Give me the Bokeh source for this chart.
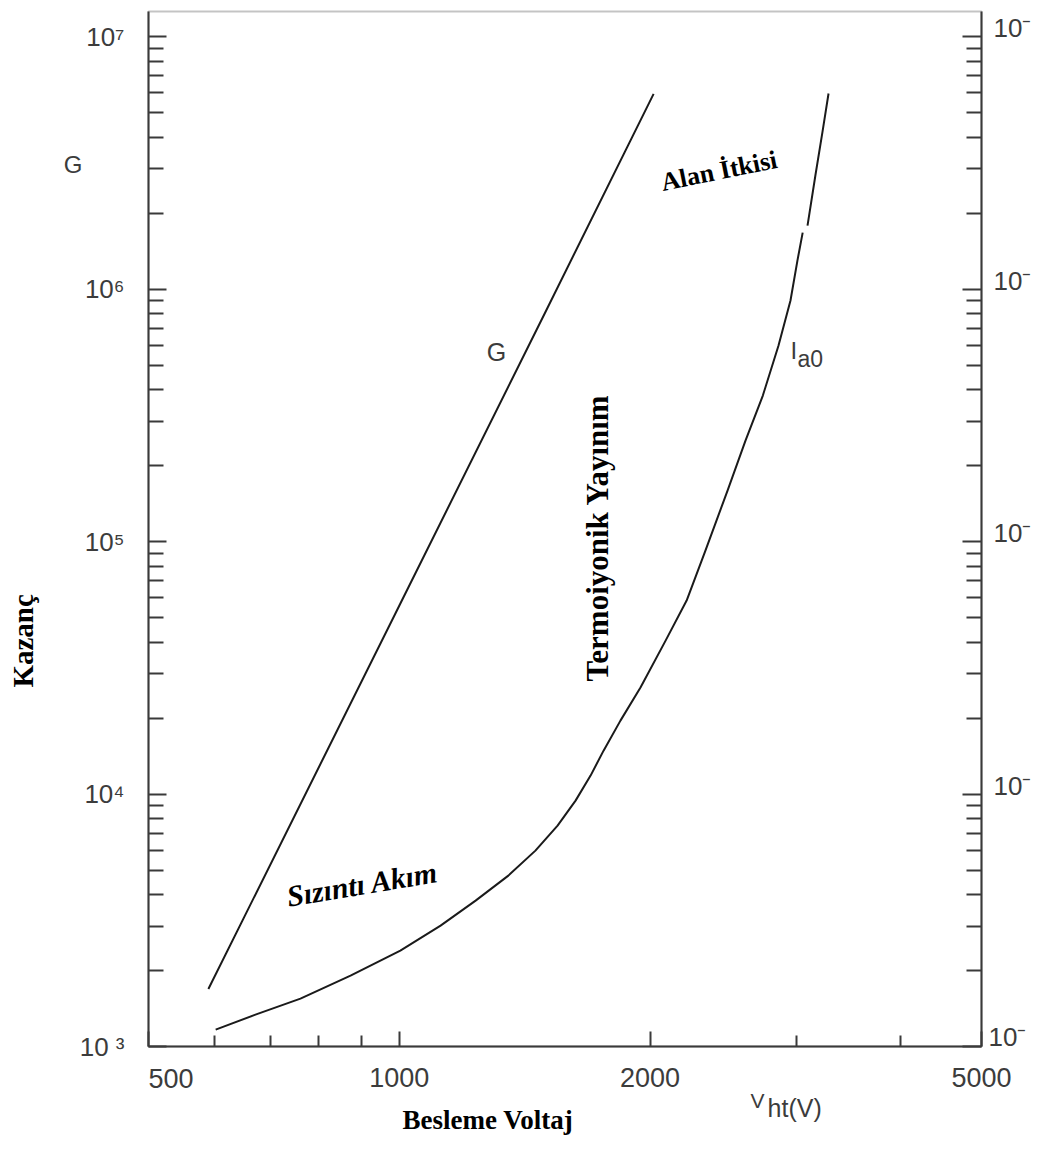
import math
from bokeh.plotting import figure
from bokeh.models import FixedTicker, LogAxis, Label, Range1d, BoxAnnotation
from bokeh.embed import file_html
from bokeh.resources import INLINE

nan = float("nan")

# ---- data ----
g_voltage = [590, 1000, 1500, 2020]
g_gain = [1690, 55700, 8.2e5, 5.94e6]

ia0_voltage = [602, 672, 761, 874, 1003, 1121, 1235, 1352, 1457, 1549, 1628, 1697, 1759,
               1843, 1948, 2088, 2213, 2331, 2478, 2604, 2732, 2853, 2949, 3006, 3050,
               nan, 3091, 3159, 3222, 3276]
ia0_value = [1166, 1337, 1547, 1909, 2398, 3012, 3783, 4752, 5970, 7499, 9419, 11835, 14860,
             19540, 26410, 40540, 58400, 92150, 1.593e5, 2.514e5, 3.79e5, 5.98e5, 9.02e5,
             1.298e6, 1.676e6, nan, 1.787e6, 2.82e6, 4.21e6, 5.96e6]

x_major = [500, 1000, 2000, 5000]
x_minor = [600, 700, 800, 900, 3000, 4000]
x_labels = {500: "", 1000: "1000", 2000: "2000", 5000: "5000"}
x_first_label = "500"

y_major = [1e3, 1e4, 1e5, 1e6, 1e7]
y_minor = [m * d for d in (1e3, 1e4, 1e5, 1e6) for m in range(2, 10)]
y_labels = {1e3: "10 \u00b3", 1e4: "10\u2074", 1e5: "10\u2075", 1e6: "10\u2076", 1e7: "10\u2077"}
right_labels = ["10\u207b"] * 5

# plot box in data units
X_MIN, X_MAX = 500, 5000
Y_MIN, Y_MAX = 1e3, 10 ** 7.1

AX = "#3a3a3a"
TXT = "#3c3c3c"

# the frame spans the whole canvas; the chart box is drawn by fixed-location axes
W, H = 1037, 1135
BOX_L, BOX_R, BOX_T, BOX_B = 148, 981, 11, 1046
dec_x = (BOX_R - BOX_L) / math.log10(X_MAX / X_MIN)
dec_y = (BOX_B - BOX_T) / math.log10(Y_MAX / Y_MIN)
x_lo = X_MIN * 10 ** (-BOX_L / dec_x)
x_hi = X_MAX * 10 ** ((W - BOX_R) / dec_x)
y_lo = Y_MIN * 10 ** (-(H - BOX_B) / dec_y)
y_hi = Y_MAX * 10 ** (BOX_T / dec_y)

p = figure(width=W, height=H, x_axis_type="log", y_axis_type="log",
           x_axis_location=None, y_axis_location=None,
           x_range=Range1d(x_lo, x_hi), y_range=Range1d(y_lo, y_hi),
           output_backend="svg", toolbar_location=None,
           min_border_left=0, min_border_right=0, min_border_top=0, min_border_bottom=0)
p.xgrid.visible = False
p.ygrid.visible = False
p.background_fill_color = "white"
p.border_fill_color = "white"
p.outline_line_color = None

p.add_layout(BoxAnnotation(left=X_MIN, right=X_MAX, bottom=Y_MIN, top=Y_MAX,
                           fill_alpha=0, line_color=AX, line_width=2))

common = dict(axis_line_color=AX, axis_line_width=2,
              major_tick_line_color=AX, major_tick_line_width=2,
              minor_tick_line_color=AX, minor_tick_line_width=2,
              major_tick_out=0, minor_tick_out=0,
              major_label_text_font="Liberation Sans",
              major_label_text_color=TXT)

xa = LogAxis(fixed_location=Y_MIN, bounds=(X_MIN, X_MAX),
             ticker=FixedTicker(ticks=x_major, minor_ticks=x_minor),
             major_label_overrides=x_labels, major_tick_in=15, minor_tick_in=11,
             major_label_standoff=21, major_label_text_font_size="27px", **common)
p.add_layout(xa, "below")

ya = LogAxis(fixed_location=X_MIN, bounds=(Y_MIN, Y_MAX),
             ticker=FixedTicker(ticks=y_major, minor_ticks=y_minor),
             major_label_overrides=y_labels, major_tick_in=18, minor_tick_in=15,
             major_label_standoff=24, major_label_text_font_size="26px", **common)
p.add_layout(ya, "left")

ra = LogAxis(fixed_location=X_MAX, bounds=(Y_MIN, Y_MAX),
             ticker=FixedTicker(ticks=y_major, minor_ticks=y_minor),
             major_label_overrides={k: "" for k in y_major},
             major_tick_in=19, minor_tick_in=15, major_label_text_font_size="26px", **common)
p.add_layout(ra, "right")

# curves
p.line(g_voltage, g_gain, line_color="#1a1a1a", line_width=2, line_join="round")
p.line(ia0_voltage, ia0_value, line_color="#1a1a1a", line_width=2, line_join="round")


def lbl(x, y, text, size, font="Liberation Sans", style="normal", color=TXT,
        align="left", baseline="middle", angle=0.0):
    p.add_layout(Label(x=x, y=y, text=text, text_font=font, text_font_size=f"{size}px",
                       text_font_style=style, text_color=color, text_align=align,
                       text_baseline=baseline, angle=angle))


# first x tick label (printed just right of its tick in the original)
lbl(500, 746, x_first_label, 27)

# sans labels
lbl(406, 3.13e6, "G", 24, align="center")
lbl(1308, 5.65e5, "G", 25, align="center")
lbl(2949, 5.71e5, "I", 24)
lbl(3007, 5.31e5, "a0", 23)
lbl(2640, 613, "V", 21)
lbl(2768, 572, "ht(V)", 25)

# right side labels
for yv, t in zip(y_major, right_labels):
    if yv == Y_MIN:
        lbl(5098, yv * 1.095, t, 26)
    else:
        lbl(5169, yv * 1.08, t, 26)

# serif labels
SERIF = "Liberation Serif"
lbl(1009, 513, "Besleme Voltaj", 27, font=SERIF, style="bold", color="black")
lbl(353, 40450, "Kazanç", 29, font=SERIF, style="bold", color="black",
    align="center", angle=math.pi / 2)
lbl(1732, 1.035e5, "Termoiyonik Yayınım", 31, font=SERIF, style="bold", color="black",
    align="center", angle=math.pi / 2)
lbl(2420, 2.94e6, "Alan İtkisi", 26, font=SERIF, style="bold", color="black",
    align="center", angle=0.2)
lbl(903, 4405, "Sızıntı Akım", 30, font=SERIF, style="bold italic", color="black",
    align="center", angle=0.165)

open("out.html", "w").write(file_html(p, INLINE))
